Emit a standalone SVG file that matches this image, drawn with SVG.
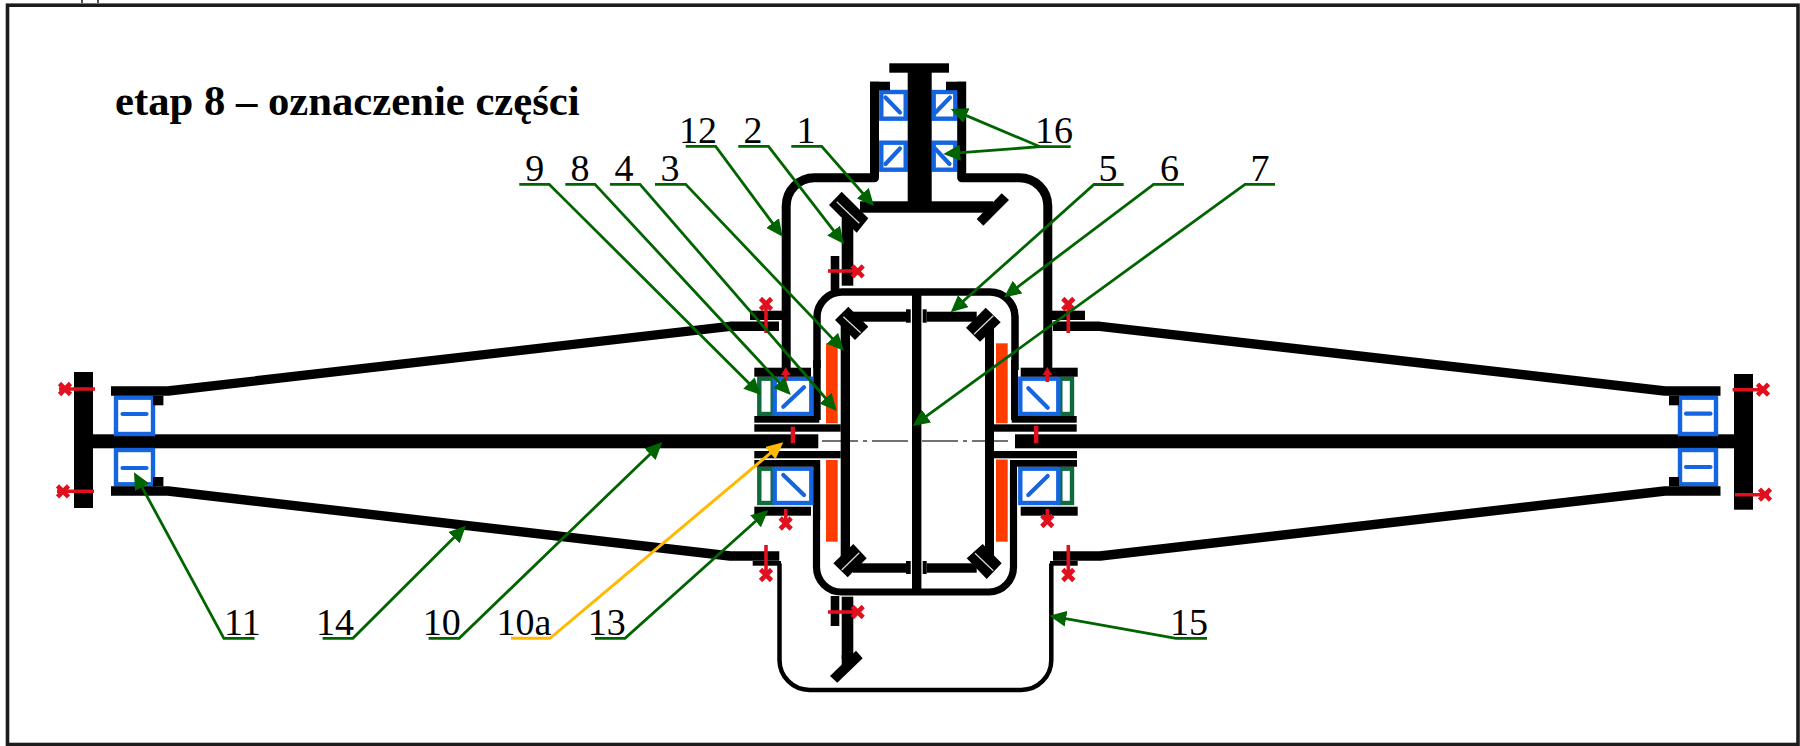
<svg xmlns="http://www.w3.org/2000/svg" width="1800" height="746" viewBox="0 0 1800 746">
<style>
.k{fill:#000}
.w{fill:none;stroke:#000;stroke-linejoin:round}
.b{fill:#fff;stroke:#1565e0;stroke-width:4.4}
.d{stroke:#1565e0;stroke-width:4.2;stroke-linecap:round;fill:none}
.g{fill:#fff;stroke:#0f6a3c;stroke-width:4.4}
.r{stroke:#e0101e;stroke-width:3.6;fill:none}
.c{stroke:#e0101e;stroke-width:4.6;fill:none}
.f{fill:#e0101e}
.o{fill:#ff3c00}
.s{stroke:#ddd;stroke-width:1.2;fill:none}
.l{fill:none;stroke:#006400;stroke-width:2.8;marker-end:url(#ag)}
.y{fill:none;stroke:#ffb900;stroke-width:3;marker-end:url(#ay)}
.n{font-family:"Liberation Serif","Times New Roman",serif;font-size:38px;fill:#000;text-anchor:middle}
.t{font-family:"Liberation Serif","Times New Roman",serif;font-size:42.7px;font-weight:bold;fill:#000}
</style>
<defs>
<marker id="ag" markerUnits="userSpaceOnUse" markerWidth="17" markerHeight="16" viewBox="0 0 17 16" refX="9" refY="8" orient="auto"><path d="M0,0L17,8L0,16Z" fill="#006400"/></marker>
<marker id="ay" markerUnits="userSpaceOnUse" markerWidth="17" markerHeight="16" viewBox="0 0 17 16" refX="9" refY="8" orient="auto"><path d="M0,0L17,8L0,16Z" fill="#ffb900"/></marker>
<path id="x" class="c" d="M-5.5,-5.5L5.5,5.5M-5.5,5.5L5.5,-5.5"/>
</defs>
<rect width="1800" height="746" fill="#fff"/>
<g id="frame">
<rect x="7.5" y="5.2" width="1790.5" height="739.3" fill="none" stroke="#1c1c1c" stroke-width="3.6"/>
<path d="M82,0V3M98,0V3" stroke="#222" stroke-width="1.6"/>
</g>
<text id="title" class="t" x="115" y="115">etap 8 – oznaczenie części</text>

<g id="part-10-axis"><path d="M822,441H1013" stroke="#444" stroke-width="1.5" stroke-dasharray="36 5 4 5"/></g>

<g id="part-16-bearings">
<rect class="b" x="881.3" y="92" width="24.4" height="26.7"/><path class="d" d="M885.5,97.5L900,112.5"/>
<rect class="b" x="881.3" y="142.7" width="24.4" height="27"/><path class="d" d="M885.5,164L900,148.5"/>
<rect class="b" x="933.7" y="92" width="21.6" height="26.7"/><path class="d" d="M935.5,112.5L950,97.5"/>
<rect class="b" x="933.7" y="142.7" width="21.6" height="27"/><path class="d" d="M935,148.5L949.5,164"/>
</g>

<g id="part-12-housing">
<path class="w" stroke-width="9" d="M786.2,368V206A28.3,28.3 0 0 1 814.5,177.7H874.5V81.7"/>
<path class="w" stroke-width="9" d="M961.7,81.7V177.7H1019.5A28.3,28.3 0 0 1 1047.8,206V368"/>
<rect class="k" x="870" y="81.7" width="20" height="8.5"/>
<rect class="k" x="946" y="81.7" width="20" height="8.5"/>
<rect class="k" x="750" y="310.7" width="32" height="9.3"/>
<rect class="k" x="1052" y="310.7" width="33" height="9.3"/>
</g>

<g id="part-1-input-shaft">
<rect class="k" x="889.3" y="63.3" width="59.7" height="9.4"/>
<rect class="k" x="907.7" y="72" width="24" height="135"/>
<rect class="k" x="860" y="201.3" width="133" height="11.4"/>
<polygon class="k" points="1001.7,193.3 1009,200 983.3,225.7 976.7,219"/>
</g>

<g id="part-2-bevel-gear">
<polygon class="k" points="841.7,191.7 868.3,218.3 856.7,232.7 829,205"/>
<path class="s" d="M836.7,201.7L859.3,223.3"/>
<rect class="k" x="841.7" y="218" width="11.6" height="67.7"/>
<rect class="k" x="830.7" y="256" width="8.6" height="34"/>
<path class="r" d="M828,271H857"/><use href="#x" x="857.7" y="271.3"/>
<rect class="k" x="841.7" y="596.7" width="11.6" height="62"/>
<rect class="k" x="830.7" y="596" width="8.6" height="30"/>
<polygon class="k" points="856,650.7 862.7,658.3 837.3,682.7 830,676"/>
<polygon class="k" points="841.7,655 853.3,655 853.3,665 841.7,676"/>
<path class="r" d="M828,612H857"/><use href="#x" x="857.7" y="612"/>
</g>

<g id="part-6-cage">
<path class="w" stroke-width="7.5" d="M817,368V317A25,25 0 0 1 842,292H990A25,25 0 0 1 1015,317V370"/>
<path class="w" stroke-width="7.2" d="M816.5,470V567A25,25 0 0 0 841.5,592H989A25,25 0 0 0 1013.5,567V470"/>
<rect class="k" x="813.2" y="360" width="7.5" height="60"/>
<rect class="k" x="813.2" y="460" width="7" height="60"/>
<rect class="k" x="1011" y="360" width="7" height="60"/>
<rect class="k" x="1010" y="460" width="7" height="60"/>
</g>

<g id="part-7-disc"><rect class="k" x="912" y="292" width="9.4" height="300"/></g>

<g id="part-4-plates">
<rect class="o" x="826" y="343.3" width="11.7" height="80"/>
<rect class="o" x="826" y="460" width="11.7" height="81.7"/>
<rect class="o" x="996" y="343.3" width="11.7" height="80"/>
<rect class="o" x="996" y="459.5" width="11.7" height="82.2"/>
</g>

<g id="part-3-carrier-left">
<rect class="k" x="840.7" y="322" width="9.3" height="240"/>
<polygon class="k" points="848.3,306.7 868.3,326.7 855,340 835,320"/>
<path class="s" d="M843.3,316.7L860.7,332.7"/>
<rect class="k" x="853" y="311.7" width="53" height="10"/>
<rect class="k" x="906" y="309.3" width="4.7" height="13.4"/>
<polygon class="k" points="853.3,544 866.7,558.3 847.7,577.3 833.3,563.3"/>
<path class="s" d="M841.7,570L859.3,552.7"/>
<rect class="k" x="853" y="563.3" width="53" height="9.4"/>
<rect class="k" x="906" y="561" width="4.7" height="13"/>
</g>

<g id="part-5-carrier-right">
<rect class="k" x="985" y="322" width="9" height="240"/>
<polygon class="k" points="985.7,307.7 1000.7,322.3 980,341.7 966,327.7"/>
<path class="s" d="M974,334.3L993.3,315.7"/>
<rect class="k" x="926.7" y="311.7" width="50" height="10"/>
<rect class="k" x="922.7" y="309.3" width="4" height="13.4"/>
<polygon class="k" points="982.7,544 1001.7,563.3 986.7,579 966.7,558.3"/>
<path class="s" d="M975,553.3L993.3,570.7"/>
<rect class="k" x="926.7" y="563.3" width="50" height="9.4"/>
<rect class="k" x="922.7" y="561" width="4" height="13"/>
</g>

<g id="part-10-shaft">
<rect class="k" x="74" y="372" width="19" height="136"/>
<rect class="k" x="93" y="434.3" width="725.3" height="14"/>
<rect class="k" x="1015" y="434.3" width="719" height="14"/>
<rect class="k" x="1734" y="374" width="19" height="135.7"/>
<path class="r" d="M59,389H95"/><use href="#x" x="65" y="389"/>
<path class="r" d="M57,491.3H94"/><use href="#x" x="63" y="491.3"/>
<path class="r" d="M1732.6,389.7H1766"/><use href="#x" x="1763" y="389.7"/>
<path class="r" d="M1735,494.7H1769"/><use href="#x" x="1765" y="494.7"/>
</g>

<g id="part-13-bearings-left">
<rect class="g" x="759.3" y="378.7" width="13.4" height="35.3"/>
<rect class="g" x="759.3" y="468.7" width="13.4" height="34.3"/>
<rect class="b" x="774.7" y="378.7" width="36.6" height="35.3"/><path class="d" d="M783.3,406.7L804,387.3"/>
<rect class="b" x="774.7" y="468.7" width="36.6" height="34.3"/><path class="d" d="M783.3,475L804,495"/>
<rect class="k" x="754.3" y="367.7" width="56.7" height="9"/>
<rect class="k" x="754.3" y="416" width="65" height="6.7"/>
<rect class="k" x="754.3" y="424.3" width="86.4" height="7.4"/>
<rect class="k" x="754.3" y="451" width="86.4" height="7.3"/>
<rect class="k" x="754.3" y="460" width="65" height="6.7"/>
<rect class="k" x="754.3" y="506.7" width="56.7" height="9"/>
<path class="r" d="M785.7,372V381"/><polygon class="f" points="785.7,367 781,375 790.4,375"/>
<path class="r" d="M785.7,509V521"/><use href="#x" x="785.7" y="523.5"/>
<rect class="f" x="790.7" y="426.7" width="4.4" height="16.6"/>
</g>

<g id="part-13-bearings-right">
<rect class="g" x="1060.3" y="378.7" width="11.7" height="35.3"/>
<rect class="g" x="1060.3" y="468.7" width="11.7" height="34.3"/>
<rect class="b" x="1020.3" y="378.7" width="38" height="35.3"/><path class="d" d="M1028.3,388.3L1047.7,407.7"/>
<rect class="b" x="1020.3" y="468.7" width="38" height="34.3"/><path class="d" d="M1028.3,495L1047.7,476"/>
<rect class="k" x="1020.7" y="367.7" width="57" height="9"/>
<rect class="k" x="1011.7" y="416" width="65" height="6.7"/>
<rect class="k" x="994" y="424.3" width="82.7" height="7.4"/>
<rect class="k" x="994" y="451" width="83" height="7.3"/>
<rect class="k" x="1011.7" y="460" width="65.3" height="6.7"/>
<rect class="k" x="1020.7" y="506.7" width="57" height="9"/>
<path class="r" d="M1047.3,372V382"/><polygon class="f" points="1047.3,367 1042.6,375 1052,375"/>
<path class="r" d="M1047.3,509V519"/><use href="#x" x="1047.3" y="521"/>
<rect class="f" x="1034" y="426" width="4.4" height="17.3"/>
</g>

<g id="part-11-bearings">
<rect class="b" x="116" y="397.7" width="37" height="36.3"/><path class="d" d="M122.5,414H146.5"/>
<rect class="b" x="116" y="450" width="37" height="34.3"/><path class="d" d="M122.5,468H146.5"/>
<rect class="b" x="1680" y="397.7" width="36" height="36.3"/><path class="d" d="M1686,413.7H1710.5"/>
<rect class="b" x="1680" y="450" width="36" height="34.3"/><path class="d" d="M1686,467H1710.5"/>
</g>

<g id="part-14-tubes">
<path class="w" stroke-width="9.4" stroke-linejoin="miter" d="M111,391H168L730,326.3H779"/>
<path class="w" stroke-width="9.4" stroke-linejoin="miter" d="M111,491H168L730,556H779.3"/>
<path class="w" stroke-width="9.4" stroke-linejoin="miter" d="M1053,326.3H1100L1665,391H1720.5"/>
<path class="w" stroke-width="9.4" stroke-linejoin="miter" d="M1053,556H1100L1665,491H1720.5"/>
<rect class="k" x="153" y="395.7" width="10.4" height="9.6"/>
<rect class="k" x="153" y="477" width="10.4" height="9.3"/>
<rect class="k" x="1669" y="395.7" width="10" height="9.6"/>
<rect class="k" x="1669" y="477" width="10" height="9.3"/>
</g>

<g id="part-15-housing">
<path class="w" stroke-width="4.5" d="M779.5,563.5V660A30,30 0 0 0 809.5,690H1021.3A30,30 0 0 0 1051.3,660V563.5"/>
<rect class="k" x="752.7" y="561" width="28.3" height="4.7"/>
<rect class="k" x="1050" y="561" width="27.7" height="4.7"/>
</g>

<g id="bolts">
<path class="r" d="M766,302V333"/><use href="#x" x="766" y="304"/>
<path class="r" d="M1068.3,302V333"/><use href="#x" x="1068.3" y="304"/>
<path class="r" d="M766,545V572"/><use href="#x" x="766" y="575"/>
<path class="r" d="M1068.3,545V572"/><use href="#x" x="1068.3" y="575"/>
</g>

<g id="connectors">
<path class="l" d="M791.3,146.3H821.7L868.7,200"/>
<path class="l" d="M738.3,146.3H768.5L839.1,237.7"/>
<path class="l" d="M685.7,146.3H715.7L777.9,230.3"/>
<path class="l" d="M1070.7,146.7H1040L958.1,112.1"/>
<path class="l" d="M1040,146.7L951.3,153.4"/>
<path class="l" d="M1123.7,184.5H1094L956.7,307"/>
<path class="l" d="M1184,184.3H1153.6L1010.4,292.5"/>
<path class="l" d="M1275,184.3H1245L919.2,421.3"/>
<path class="l" d="M519.3,184.3H549.2L755.3,389.4"/>
<path class="l" d="M565.3,184.3H595L785.3,389.1"/>
<path class="l" d="M610,184.3H640L831.5,405"/>
<path class="l" d="M655,184.3H685.7L838.5,344.9"/>
<path class="l" d="M254.5,638.3H223.9L137.8,479.3"/>
<path class="l" d="M322.6,638.3H352.9L460.3,531.3"/>
<path class="l" d="M428.6,638.3H459.2L656.5,447.9"/>
<path class="y" d="M511,638.3H550L777.2,447.4"/>
<path class="l" d="M595,638.3H625L762.3,515.3"/>
<path class="l" d="M1207,638.3H1175.9L1057.2,617.1"/>
</g>

<g id="labels">
<text class="n" x="806" y="143">1</text>
<text class="n" x="753" y="143">2</text>
<text class="n" x="698" y="143">12</text>
<text class="n" x="1054" y="143">16</text>
<text class="n" x="1108" y="181">5</text>
<text class="n" x="1169.6" y="181">6</text>
<text class="n" x="1260" y="181">7</text>
<text class="n" x="534.7" y="181">9</text>
<text class="n" x="580" y="181">8</text>
<text class="n" x="624" y="181">4</text>
<text class="n" x="670" y="181">3</text>
<text class="n" x="242.4" y="635">11</text>
<text class="n" x="335" y="635">14</text>
<text class="n" x="441.7" y="635">10</text>
<text class="n" x="524" y="635">10a</text>
<text class="n" x="606.7" y="635">13</text>
<text class="n" x="1189" y="635">15</text>
</g>
</svg>
